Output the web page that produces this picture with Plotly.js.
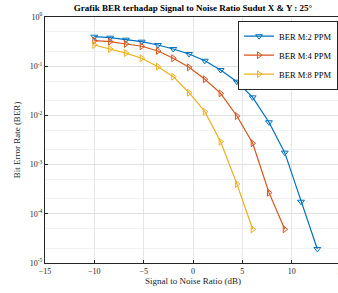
<!DOCTYPE html>
<html><head><meta charset="utf-8">
<script src="https://cdn.plot.ly/plotly-3.0.1.min.js"></script>
<style>html,body{margin:0;padding:0;overflow:hidden;background:#fff;}#chart{width:345px;height:293px;}</style>
</head><body><div id="chart"></div>
<script>
const snr2 = [-10, -8.4, -6.8, -5.2, -3.55, -2, -0.4, 1.2, 2.8, 4.45, 6.05, 7.7, 9.3, 10.95, 12.6];
const ber2 = [0.398, 0.380, 0.346, 0.315, 0.270, 0.224, 0.177, 0.129, 0.0837, 0.0484, 0.0233, 0.00725, 0.00175, 1.76e-4, 1.93e-5];
const snr4 = [-10, -8.4, -6.8, -5.2, -3.55, -2, -0.4, 1.2, 2.8, 4.45, 6.05, 7.7, 9.3];
const ber4 = [0.330, 0.315, 0.283, 0.254, 0.204, 0.145, 0.095, 0.0542, 0.0281, 0.00972, 0.00271, 2.69e-4, 4.84e-5];
const snr8 = [-10, -8.4, -6.8, -5.2, -3.55, -2, -0.4, 1.2, 2.8, 4.45, 6.05];
const ber8 = [0.270, 0.224, 0.185, 0.145, 0.0977, 0.0612, 0.0289, 0.0119, 0.00292, 4.04e-4, 4.84e-5];
const names = ['BER M:2 PPM', 'BER M:4 PPM', 'BER M:8 PPM'];
const colors = ['#0072BD', '#D95319', '#EDB120'];
const symbols = ['triangle-down-open', 'triangle-right-open', 'triangle-right-open'];
const yTickVals = [1, 0.1, 0.01, 0.001, 0.0001, 0.00001];
const yTickText = ['10<sup>0</sup>', '10<sup>-1</sup>', '10<sup>-2</sup>', '10<sup>-3</sup>', '10<sup>-4</sup>', '10<sup>-5</sup>'];
const xTickVals = [-15, -10, -5, 0, 5, 10, 15];

const xs = [snr2, snr4, snr8], ys = [ber2, ber4, ber8];
const traces = xs.map((x, i) => ({
  x: x, y: ys[i], name: names[i], type: 'scatter', mode: 'lines+markers',
  line: {color: colors[i], width: 1.2},
  marker: {symbol: symbols[i], size: 6, color: colors[i], line: {color: colors[i], width: 1}}
}));

const font = 'Liberation Serif, Times New Roman, serif';
const layout = {
  width: 345, height: 293,
  margin: {l: 45, r: 4, t: 17, b: 30},
  paper_bgcolor: '#fff', plot_bgcolor: '#fff',
  font: {family: font, size: 8, color: '#262626'},
  title: {text: '<b>Grafik BER terhadap Signal to Noise Ratio Sudut X & Y : 25°</b>',
          font: {family: font, size: 9, color: '#000'}, x: 0.5, xref: 'paper', xanchor: 'center', y: 0.972, yanchor: 'middle', yref: 'container'},
  xaxis: {range: [-15, 15], tickvals: xTickVals, ticks: 'inside', ticklen: 3, tickcolor: '#262626',
          showline: true, linecolor: '#262626', linewidth: 1, mirror: true,
          showgrid: true, gridcolor: '#e6e6e6', zeroline: false,
          tickfont: {family: font, size: 8, color: '#262626'},
          title: {text: 'Signal to Noise Ratio (dB)', font: {family: font, size: 9, color: '#262626'}, standoff: 3}},
  yaxis: {type: 'log', range: [-5, 0], tickvals: yTickVals, ticktext: yTickText,
          ticks: 'inside', ticklen: 3, tickcolor: '#262626',
          showline: true, linecolor: '#262626', linewidth: 1, mirror: true,
          showgrid: true, gridcolor: '#e0e0e0', zeroline: false,
          minor: {showgrid: true, gridcolor: '#f2f2f2', ticks: ''},
          tickfont: {family: font, size: 8, color: '#262626'},
          title: {text: 'Bit Error Rate (BER)', font: {family: font, size: 9, color: '#262626'}, standoff: 7}},
  legend: {x: 0.99, xanchor: 'right', y: 0.985, yanchor: 'top', bgcolor: '#fff',
           bordercolor: '#262626', borderwidth: 1, font: {family: font, size: 8.5, color: '#000'},
           tracegroupgap: 0, itemwidth: 30},
  showlegend: true
};
Plotly.newPlot('chart', traces, layout, {displayModeBar: false, staticPlot: true});
</script></body></html>
